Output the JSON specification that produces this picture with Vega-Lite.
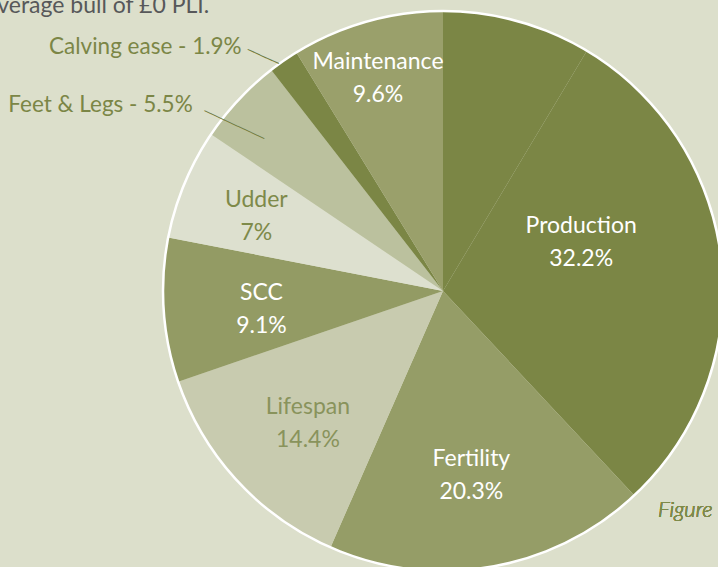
{
  "$schema": "https://vega.github.io/schema/vega-lite/v6.json",
  "width": 560,
  "height": 560,
  "autosize": "none",
  "padding": {"left": 163, "top": 11, "right": 0, "bottom": 0},
  "background": "#dcdfcb",
  "config": {"view": {"stroke": null}},
  "title": {
    "text": "average bull of £0 PLI.",
    "anchor": "start",
    "frame": "group",
    "font": "Lato",
    "fontSize": 23,
    "fontWeight": "normal",
    "color": "#57585a",
    "baseline": "alphabetic",
    "offset": 0,
    "dx": -177,
    "dy": 45
  },
  "data": {
    "values": [
      {"idx": 0, "name": "Unlabelled", "value": 9.4, "label": ""},
      {"idx": 1, "name": "Production", "value": 32.2, "label": "Production\n32.2%"},
      {"idx": 2, "name": "Fertility", "value": 20.3, "label": "Fertility\n20.3%"},
      {"idx": 3, "name": "Lifespan", "value": 14.4, "label": "Lifespan\n14.4%"},
      {"idx": 4, "name": "SCC", "value": 9.1, "label": "SCC\n9.1%"},
      {"idx": 5, "name": "Udder", "value": 7, "label": "Udder\n7%"},
      {"idx": 6, "name": "Feet & Legs", "value": 5.5, "label": "Feet & Legs - 5.5%"},
      {"idx": 7, "name": "Calving ease", "value": 1.9, "label": "Calving ease - 1.9%"},
      {"idx": 8, "name": "Maintenance", "value": 9.6, "label": "Maintenance\n9.6%"}
    ]
  },
  "layer": [
    {
      "mark": {"type": "arc"},
      "encoding": {
        "theta": {"field": "value", "type": "quantitative", "stack": true},
        "order": {"field": "idx", "type": "quantitative"},
        "color": {
          "field": "name",
          "type": "nominal",
          "legend": null,
          "scale": {
            "domain": ["Unlabelled", "Production", "Fertility", "Lifespan", "SCC", "Udder", "Feet & Legs", "Calving ease", "Maintenance"],
            "range": ["#7b8645", "#7b8645", "#959d67", "#c8cbaf", "#939b64", "#dde0cf", "#bbc19e", "#7b8645", "#9aa06b"]
          }
        }
      }
    },
    {
      "transform": [{"aggregate": [{"op": "sum", "field": "value", "as": "total"}]}],
      "mark": {"type": "arc", "fillOpacity": 0, "stroke": "#ffffff", "strokeWidth": 2.5},
      "encoding": {
        "theta": {"field": "total", "type": "quantitative", "stack": true}
      }
    },
    {
      "mark": {"type": "text", "radius": 143, "dx": -4, "dy": -50, "font": "Lato", "fontSize": 23, "color": "#ffffff", "lineHeight": 33, "lineBreak": "\n", "align": "center", "baseline": "middle"},
      "encoding": {
        "theta": {"field": "value", "type": "quantitative", "stack": true},
        "order": {"field": "idx", "type": "quantitative"},
        "text": {"condition": {"test": "datum.name === 'Production'", "field": "label"}, "value": ""}
      }
    },
    {
      "mark": {"type": "text", "radius": 186, "dx": -3, "dy": -15, "font": "Lato", "fontSize": 23, "color": "#ffffff", "lineHeight": 33, "lineBreak": "\n", "align": "center", "baseline": "middle"},
      "encoding": {
        "theta": {"field": "value", "type": "quantitative", "stack": true},
        "order": {"field": "idx", "type": "quantitative"},
        "text": {"condition": {"test": "datum.name === 'Fertility'", "field": "label"}, "value": ""}
      }
    },
    {
      "mark": {"type": "text", "radius": 189, "dx": 4, "dy": -12, "font": "Lato", "fontSize": 23, "color": "#89935c", "lineHeight": 33, "lineBreak": "\n", "align": "center", "baseline": "middle"},
      "encoding": {
        "theta": {"field": "value", "type": "quantitative", "stack": true},
        "order": {"field": "idx", "type": "quantitative"},
        "text": {"condition": {"test": "datum.name === 'Lifespan'", "field": "label"}, "value": ""}
      }
    },
    {
      "mark": {"type": "text", "radius": 182, "dx": 0, "dy": -11, "font": "Lato", "fontSize": 23, "color": "#ffffff", "lineHeight": 33, "lineBreak": "\n", "align": "center", "baseline": "middle"},
      "encoding": {
        "theta": {"field": "value", "type": "quantitative", "stack": true},
        "order": {"field": "idx", "type": "quantitative"},
        "text": {"condition": {"test": "datum.name === 'SCC'", "field": "label"}, "value": ""}
      }
    },
    {
      "mark": {"type": "text", "radius": 201, "dx": -1, "dy": -14, "font": "Lato", "fontSize": 23, "color": "#7e8a4a", "lineHeight": 33, "lineBreak": "\n", "align": "center", "baseline": "middle"},
      "encoding": {
        "theta": {"field": "value", "type": "quantitative", "stack": true},
        "order": {"field": "idx", "type": "quantitative"},
        "text": {"condition": {"test": "datum.name === 'Udder'", "field": "label"}, "value": ""}
      }
    },
    {
      "mark": {"type": "text", "radius": 224, "dx": -4, "dy": -13, "font": "Lato", "fontSize": 23, "color": "#ffffff", "lineHeight": 33, "lineBreak": "\n", "align": "center", "baseline": "middle"},
      "encoding": {
        "theta": {"field": "value", "type": "quantitative", "stack": true},
        "order": {"field": "idx", "type": "quantitative"},
        "text": {"condition": {"test": "datum.name === 'Maintenance'", "field": "label"}, "value": ""}
      }
    },
    {
      "mark": {"type": "text", "radius": 315, "dx": -22, "dy": 15, "font": "Lato", "fontSize": 22.5, "color": "#7b8646", "align": "right", "baseline": "middle"},
      "encoding": {
        "theta": {"field": "value", "type": "quantitative", "stack": true},
        "order": {"field": "idx", "type": "quantitative"},
        "text": {"condition": {"test": "datum.name === 'Calving ease'", "field": "label"}, "value": ""}
      }
    },
    {
      "mark": {"type": "text", "radius": 310, "dx": -24, "dy": 26, "font": "Lato", "fontSize": 22.5, "color": "#7b8646", "align": "right", "baseline": "middle"},
      "encoding": {
        "theta": {"field": "value", "type": "quantitative", "stack": true},
        "order": {"field": "idx", "type": "quantitative"},
        "text": {"condition": {"test": "datum.name === 'Feet & Legs'", "field": "label"}, "value": ""}
      }
    },
    {
      "mark": {"type": "text", "radius": 295, "angle": 24.3, "dx": -7.4, "dy": 13, "font": "DejaVu Sans Mono", "fontSize": 11.3, "color": "#6f7a3c", "align": "center", "baseline": "middle"},
      "encoding": {
        "theta": {"field": "value", "type": "quantitative", "stack": true},
        "order": {"field": "idx", "type": "quantitative"},
        "text": {"condition": {"test": "datum.name === 'Calving ease'", "value": "─────"}, "value": ""}
      }
    },
    {
      "mark": {"type": "text", "radius": 266, "angle": 25, "dx": -6.6, "dy": 20.3, "font": "DejaVu Sans Mono", "fontSize": 12.2, "color": "#6f7a3c", "align": "center", "baseline": "middle"},
      "encoding": {
        "theta": {"field": "value", "type": "quantitative", "stack": true},
        "order": {"field": "idx", "type": "quantitative"},
        "text": {"condition": {"test": "datum.name === 'Feet & Legs'", "value": "─────────"}, "value": ""}
      }
    },
    {
      "mark": {"type": "text", "text": "Figure", "radius": 312, "font": "Lato", "fontSize": 22, "fontStyle": "italic", "fontWeight": 300, "color": "#7e8a4a", "align": "left", "baseline": "alphabetic"},
      "encoding": {
        "theta": {"datum": 41.46, "type": "quantitative"}
      }
    }
  ]
}
